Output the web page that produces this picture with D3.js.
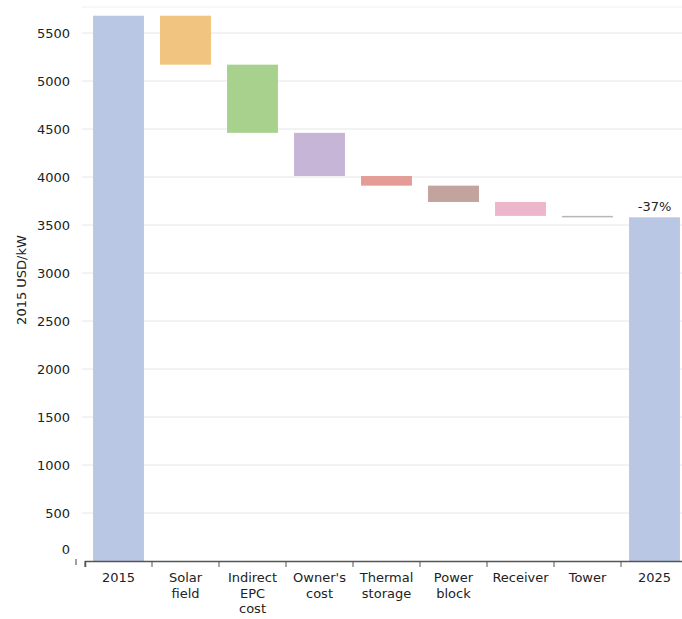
<!DOCTYPE html>
<html>
<head>
<meta charset="utf-8">
<script src="https://cdn.jsdelivr.net/npm/d3@7"></script>
<style>
  html, body { margin: 0; padding: 0; background: #fff; }
  svg { display: block; font-family: "DejaVu Sans", sans-serif; }
</style>
</head>
<body>
<div id="chart"></div>
<script>
// Capital cost breakdown, 2015 to 2025 (USD/kW)
const categories = ["2015", "Solar field", "Indirect EPC cost", "Owner's cost", "Thermal storage", "Power block", "Receiver", "Tower", "2025"];
const categoryLines = [["2015"], ["Solar", "field"], ["Indirect", "EPC", "cost"], ["Owner's", "cost"], ["Thermal", "storage"], ["Power", "block"], ["Receiver"], ["Tower"], ["2025"]];
const startValue = 5680;
const reductions = [510, 710, 450, 100, 170, 145, 15];
const barColors = ["#b9c7e5", "#f1c47f", "#a9d18e", "#c6b5d7", "#e39c96", "#c2a39d", "#edb6cb", "#b7b7bb", "#b9c7e5"];
const yTicks = [0, 500, 1000, 1500, 2000, 2500, 3000, 3500, 4000, 4500, 5000, 5500];
const changeLabel = "-37%";
const yTitle = "2015 USD/kW";

const width = 682, height = 619;
const margin = { top: 7, right: -6, bottom: 58, left: 85 };

// Build waterfall segments
const segments = [];
let running = startValue;
segments.push({ cat: categories[0], y0: 0, y1: startValue });
reductions.forEach((r, i) => {
  segments.push({ cat: categories[i + 1], y0: running - r, y1: running });
  running -= r;
});
segments.push({ cat: categories[8], y0: 0, y1: running });

const svg = d3.select("#chart").append("svg")
  .attr("width", width).attr("height", height);

const x = d3.scaleBand()
  .domain(categories)
  .range([margin.left, width - margin.right])
  .paddingInner(0.24)
  .paddingOuter(0.12);

const y = d3.scaleLinear()
  .domain([0, 5500])
  .range([561, 33]);

// Gridlines
svg.append("g")
  .selectAll("line")
  .data(yTicks.filter(d => d > 0))
  .join("line")
  .attr("x1", 82).attr("x2", width)
  .attr("y1", d => y(d)).attr("y2", d => y(d))
  .attr("stroke", "#e6e6e6").attr("stroke-width", 1);

svg.append("line")
  .attr("x1", 82).attr("x2", width)
  .attr("y1", margin.top).attr("y2", margin.top)
  .attr("stroke", "#efefef");

// Bars
svg.append("g")
  .selectAll("rect")
  .data(segments)
  .join("rect")
  .attr("x", d => x(d.cat))
  .attr("width", x.bandwidth())
  .attr("y", d => y(d.y1))
  .attr("height", d => Math.max(1.5, y(d.y0) - y(d.y1)))
  .attr("fill", (d, i) => barColors[i]);

// Y tick labels
svg.append("g")
  .selectAll("text")
  .data(yTicks)
  .join("text")
  .attr("x", 70)
  .attr("y", d => y(d) - (d === 0 ? 12 : 0))
  .attr("dy", "0.35em")
  .attr("text-anchor", "end")
  .attr("font-size", 13)
  .attr("fill", "#222")
  .text(d => d);

// Small mark left of axis origin
svg.append("line")
  .attr("x1", 76).attr("x2", 76)
  .attr("y1", 559).attr("y2", 565)
  .attr("stroke", "#444").attr("stroke-width", 1);

// X axis
const xAxis = d3.axisBottom(x).tickSize(6).tickFormat("");
const gx = svg.append("g").attr("transform", "translate(0,561)").call(xAxis);
gx.select(".domain").attr("stroke", "#555").attr("stroke-width", 1.5);
gx.selectAll(".tick line").remove();

// Boundary ticks between categories
const step = x.step();
const boundaries = categories.map((c, i) => x(c) - (step - x.bandwidth()) / 2);
svg.append("g")
  .selectAll("line")
  .data(boundaries)
  .join("line")
  .attr("x1", d => d).attr("x2", d => d)
  .attr("y1", 561).attr("y2", 567)
  .attr("stroke", "#555").attr("stroke-width", 1);

// Category labels
const labels = svg.append("g")
  .selectAll("text")
  .data(categories)
  .join("text")
  .attr("text-anchor", "middle")
  .attr("font-size", 13)
  .attr("fill", "#222")
  .attr("transform", d => `translate(${x(d) + x.bandwidth() / 2},582)`);
labels.selectAll("tspan")
  .data((d, i) => categoryLines[i])
  .join("tspan")
  .attr("x", 0)
  .attr("y", (d, i) => i * 15.5)
  .text(d => d);

// Change annotation on the final bar
const last = segments[segments.length - 1];
svg.append("text")
  .attr("x", x(last.cat) + x.bandwidth() / 2)
  .attr("y", y(last.y1) - 6)
  .attr("text-anchor", "middle")
  .attr("font-size", 13)
  .attr("fill", "#222")
  .text(changeLabel);

// Y axis title
svg.append("text")
  .attr("transform", "translate(26,280) rotate(-90)")
  .attr("text-anchor", "middle")
  .attr("font-size", 13)
  .attr("fill", "#222")
  .text(yTitle);
</script>
</body>
</html>
